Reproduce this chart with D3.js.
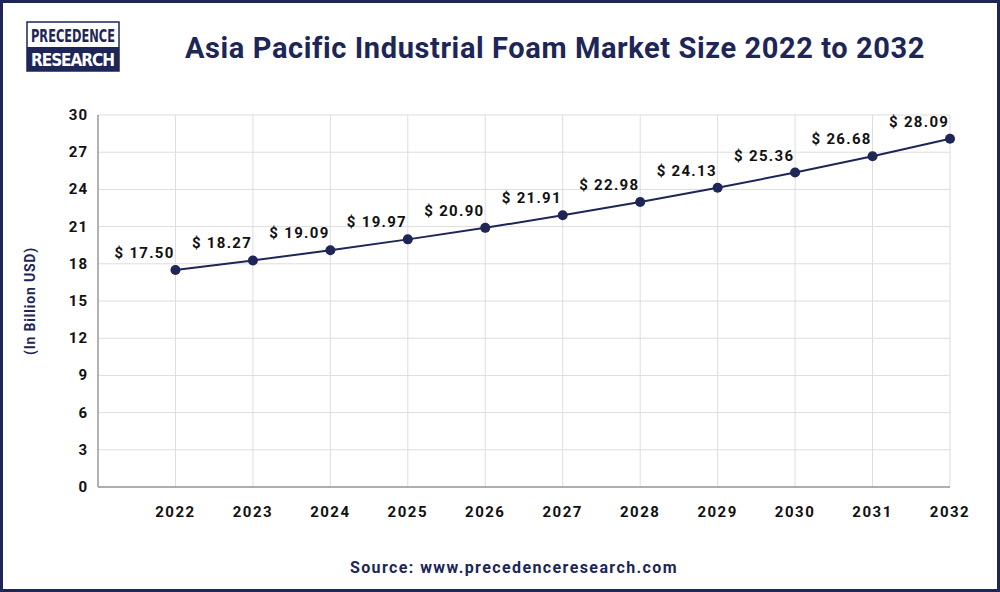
<!DOCTYPE html>
<html><head><meta charset="utf-8">
<script src="https://cdn.jsdelivr.net/npm/d3@7"></script>
<style>body{margin:0;background:#fff}svg{display:block;font-family:Roboto,"Open Sans",sans-serif}</style>
</head><body><svg width="1000" height="592"></svg>
<script>
const years = [2022,2023,2024,2025,2026,2027,2028,2029,2030,2031,2032];
const values = [17.50,18.27,19.09,19.97,20.90,21.91,22.98,24.13,25.36,26.68,28.09];
const yTicks = [0,3,6,9,12,15,18,21,24,27,30];
const navy = "#1d2657";
const svg = d3.select("svg");
svg.append("rect").attr("x",1.5).attr("y",1.5).attr("width",997).attr("height",589).attr("fill","#fff").attr("stroke",navy).attr("stroke-width",3);
// logo
svg.append("rect").attr("x",27).attr("y",22).attr("width",92).attr("height",49).attr("fill","#fff").attr("stroke",navy).attr("stroke-width",1.5);
svg.append("rect").attr("x",27).attr("y",47).attr("width",92).attr("height",24).attr("fill",navy);
svg.append("text").attr("x",31).attr("y",42).attr("fill",navy).attr("font-size",17).attr("font-family","'Liberation Sans Narrow','DejaVu Sans Condensed',sans-serif").attr("font-weight","bold").attr("textLength",84).attr("lengthAdjust","spacingAndGlyphs").text("PRECEDENCE");
svg.append("text").attr("x",31).attr("y",66).attr("fill","#fff").attr("font-size",17).attr("font-family","'Liberation Sans Narrow','DejaVu Sans Condensed',sans-serif").attr("font-weight","bold").attr("textLength",84).attr("lengthAdjust","spacing").text("RESEARCH");
svg.append("text").attr("x",555).attr("y",58).attr("text-anchor","middle").attr("fill",navy).attr("font-size",29).attr("font-weight","bold").attr("letter-spacing",0.6).text("Asia Pacific Industrial Foam Market Size 2022 to 2032");

const x = d3.scaleLinear().domain([2021,2032]).range([98,950]);
const y = d3.scaleLinear().domain([0,30]).range([487,115]);
const g = svg.append("g");
g.selectAll(".hg").data(yTicks).join("line").attr("x1",98).attr("x2",950).attr("y1",d=>y(d)).attr("y2",d=>y(d)).attr("stroke","#ddd");
g.selectAll(".vg").data(years).join("line").attr("x1",d=>x(d)).attr("x2",d=>x(d)).attr("y1",115).attr("y2",487).attr("stroke","#ddd");
g.append("line").attr("x1",98).attr("x2",98).attr("y1",115).attr("y2",487).attr("stroke","#999").attr("stroke-width",1.5);
g.append("line").attr("x1",98).attr("x2",950).attr("y1",487).attr("y2",487).attr("stroke","#999").attr("stroke-width",1.5);
g.selectAll(".yl").data(yTicks).join("text").attr("x",88).attr("y",d=>y(d)+5).attr("text-anchor","end").attr("font-size",15).attr("font-weight","bold").attr("letter-spacing",1).attr("fill","#111").text(d=>d);
g.selectAll(".xl").data(years).join("text").attr("x",d=>x(d)).attr("y",517).attr("text-anchor","middle").attr("font-size",15).attr("font-weight","bold").attr("letter-spacing",1.5).attr("fill","#111").text(d=>d);
svg.append("text").attr("transform","translate(35,301) rotate(-90)").attr("text-anchor","middle").attr("font-size",14).attr("font-weight","bold").attr("letter-spacing",0.8).attr("fill",navy).text("(In Billion USD)");
const line = d3.line().x((d,i)=>x(years[i])).y(d=>y(d));
g.append("path").datum(values).attr("d",line).attr("fill","none").attr("stroke",navy).attr("stroke-width",2);
g.selectAll("circle").data(values).join("circle").attr("cx",(d,i)=>x(years[i])).attr("cy",d=>y(d)).attr("r",5).attr("fill",navy);
g.selectAll(".vl").data(values).join("text").attr("x",(d,i)=>x(years[i])-61).attr("y",d=>y(d)-12).attr("font-size",15).attr("font-weight","bold").attr("letter-spacing",1.3).attr("fill","#111").text(d=>"$ "+d.toFixed(2));
svg.append("text").attr("x",514).attr("y",573).attr("text-anchor","middle").attr("font-size",16).attr("font-weight","bold").attr("fill",navy).attr("letter-spacing",1.4).text("Source: www.precedenceresearch.com");
</script></body></html>
